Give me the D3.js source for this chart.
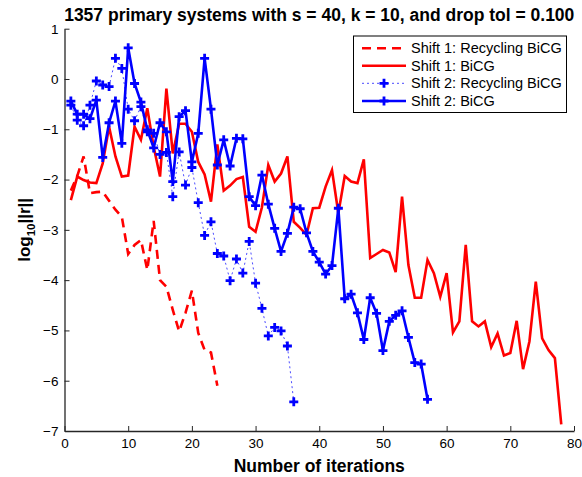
<!DOCTYPE html>
<html><head><meta charset="utf-8">
<script src="https://cdn.jsdelivr.net/npm/d3@7"></script>
<style>
body{margin:0;background:#fff;}
svg{display:block;font-family:"Liberation Sans",Arial,Helvetica,sans-serif;}
</style></head>
<body>
<svg id="c" width="582" height="477"></svg>
<script>
const xTicks = [0,10,20,30,40,50,60,70,80];
const yTicks = [-7,-6,-5,-4,-3,-2,-1,0,1];
const seriesNames = ["Shift 1: Recycling BiCG","Shift 1: BiCG","Shift 2: Recycling BiCG","Shift 2: BiCG"];

const shift1Recycling = [-2.22,-1.93,-1.54,-2.27,-2.25,-2.24,-2.42,-2.60,-2.74,-3.48,-3.30,-3.20,-3.80,-2.82,-4.00,-4.13,-4.59,-5.02,-4.65,-4.21,-5.05,-5.39,-5.44,-6.10];
const shift1BiCG = [-2.41,-1.94,-2.01,-2.06,-2.07,-1.68,-0.95,-1.54,-1.94,-1.92,-0.95,-1.21,-0.58,-1.35,-1.94,-0.19,-1.48,-0.89,-0.89,-1.05,-1.65,-1.90,-2.44,-1.30,-2.22,-2.12,-1.99,-1.95,-2.94,-3.04,-2.55,-1.71,-2.04,-1.88,-1.54,-2.84,-2.96,-3.10,-2.57,-2.56,-2.14,-1.81,-2.67,-1.93,-2.04,-2.07,-1.60,-3.56,-3.48,-3.40,-3.45,-3.84,-2.34,-3.70,-4.35,-4.35,-3.60,-3.86,-4.33,-3.86,-5.04,-4.82,-3.30,-4.82,-4.92,-4.82,-5.33,-5.06,-5.50,-5.45,-4.81,-5.77,-5.22,-4.03,-5.16,-5.39,-5.55,-6.87];
const shift2Recycling = [-0.52,-0.82,-0.93,-0.52,-0.04,-0.12,-0.15,0.41,0.21,-0.60,-0.83,-0.55,-1.05,-1.08,-1.50,-1.46,-2.34,-1.45,-2.11,-1.76,-2.46,-3.11,-2.84,-3.47,-3.52,-4.01,-3.58,-3.86,-3.23,-4.06,-4.56,-5.11,-4.94,-5.01,-5.31,-6.42];
const shift2BiCG = [-0.44,-0.70,-0.70,-0.79,-0.42,-1.56,-0.87,-0.44,-1.28,0.62,-0.09,-0.46,-1.01,-1.37,-0.87,-1.05,-2.04,-0.75,-0.63,-1.65,-1.08,0.41,-0.60,-1.71,-1.21,-1.73,-1.18,-1.19,-2.34,-2.52,-1.91,-2.49,-2.97,-3.43,-3.07,-2.55,-2.58,-3.06,-3.43,-3.64,-3.88,-3.71,-2.57,-4.37,-4.28,-4.65,-5.18,-4.35,-4.66,-5.40,-4.82,-4.70,-4.61,-5.14,-5.64,-5.67,-6.37];

const svg = d3.select("#c");
const x = d3.scaleLinear().domain([0,80]).range([64.5,574]);
const y = d3.scaleLinear().domain([-7,1]).range([431,28.7]);
const axisColor = "#262626";

// axes
const gx = svg.append("g").attr("transform",`translate(0,${y(-7)})`)
  .call(d3.axisBottom(x).tickValues(xTicks).tickSizeInner(-5).tickSizeOuter(0).tickPadding(7).tickFormat(d3.format("d")));
const gy = svg.append("g").attr("transform",`translate(${x(0)},0)`)
  .call(d3.axisLeft(y).tickValues(yTicks).tickSizeInner(-5).tickSizeOuter(0).tickPadding(6).tickFormat(d => d < 0 ? "\u2212" + Math.abs(d) : d));
[gx,gy].forEach(g=>{
  g.select(".domain").attr("stroke",axisColor).attr("stroke-width",1.3);
  g.selectAll(".tick line").attr("stroke",axisColor).attr("stroke-width",1);
  g.selectAll(".tick text").attr("fill","#000").attr("font-size",13.5).attr("font-family","Liberation Sans, Arial, sans-serif");
});

const line = d3.line().x((d,i)=>x(i+1)).y(d=>y(d));

function plus(g, cx, cy, s) {
  g.append("path").attr("d",`M${cx-s},${cy}H${cx+s}M${cx},${cy-s}V${cy+s}`)
    .attr("stroke","#0000ff").attr("stroke-width",2.8).attr("fill","none");
}

// Shift 1 recycling (red dashed)
svg.append("path").datum(shift1Recycling).attr("d",line)
  .attr("fill","none").attr("stroke","#ff0000").attr("stroke-width",2.6).attr("stroke-dasharray","9,6");
// Shift 1 BiCG (red solid)
svg.append("path").datum(shift1BiCG).attr("d",line)
  .attr("fill","none").attr("stroke","#ff0000").attr("stroke-width",2.6).attr("stroke-linejoin","miter");
// Shift 2 recycling (blue dotted with +)
svg.append("path").datum(shift2Recycling).attr("d",line)
  .attr("fill","none").attr("stroke","#4a4aff").attr("stroke-width",1).attr("stroke-dasharray","2,3");
const gm1 = svg.append("g");
shift2Recycling.forEach((d,i)=>plus(gm1, x(i+1), y(d), 4.5));
// Shift 2 BiCG (blue solid with +)
svg.append("path").datum(shift2BiCG).attr("d",line)
  .attr("fill","none").attr("stroke","#0000ff").attr("stroke-width",2.6);
const gm2 = svg.append("g");
shift2BiCG.forEach((d,i)=>plus(gm2, x(i+1), y(d), 4.5));

// title
svg.append("text").attr("x",(64.5+574)/2).attr("y",20.5).attr("text-anchor","middle")
  .attr("font-weight","bold").attr("font-size",17.5).text("1357 primary systems with s = 40, k = 10, and drop tol = 0.100");

// x label
svg.append("text").attr("x",(64.5+574)/2).attr("y",472).attr("text-anchor","middle")
  .attr("font-weight","bold").attr("font-size",17.5).text("Number of iterations");

// y label
const yl = svg.append("text").attr("transform",`translate(30,${(28.7+431)/2}) rotate(-90)`)
  .attr("text-anchor","middle").attr("font-weight","bold").attr("font-size",17);
yl.append("tspan").text("log");
yl.append("tspan").attr("font-size",11.5).attr("dy",5).text("10");
yl.append("tspan").attr("dy",-5).text("||r||");

// legend
const lg = svg.append("g");
lg.append("rect").attr("x",353.5).attr("y",36).attr("width",213).attr("height",76.5)
  .attr("fill","#fff").attr("stroke","#000").attr("stroke-width",1);
const ly = [48.3,65.7,83.3,101];
const styles = [
  {c:"#ff0000",w:2.6,da:"9,6",m:false},
  {c:"#ff0000",w:2.6,da:null,m:false},
  {c:"#4a4aff",w:1,da:"2,3",m:true},
  {c:"#0000ff",w:2.6,da:null,m:true}
];
seriesNames.forEach((n,i)=>{
  const s = styles[i];
  const p = lg.append("path").attr("d",`M362,${ly[i]}H406`).attr("stroke",s.c).attr("stroke-width",s.w).attr("fill","none");
  if (s.da) p.attr("stroke-dasharray",s.da);
  if (s.m) plus(lg, 384, ly[i], 4.5);
  lg.append("text").attr("x",411).attr("y",ly[i]+5).attr("font-size",14.5).text(n);
});
</script>
</body></html>
